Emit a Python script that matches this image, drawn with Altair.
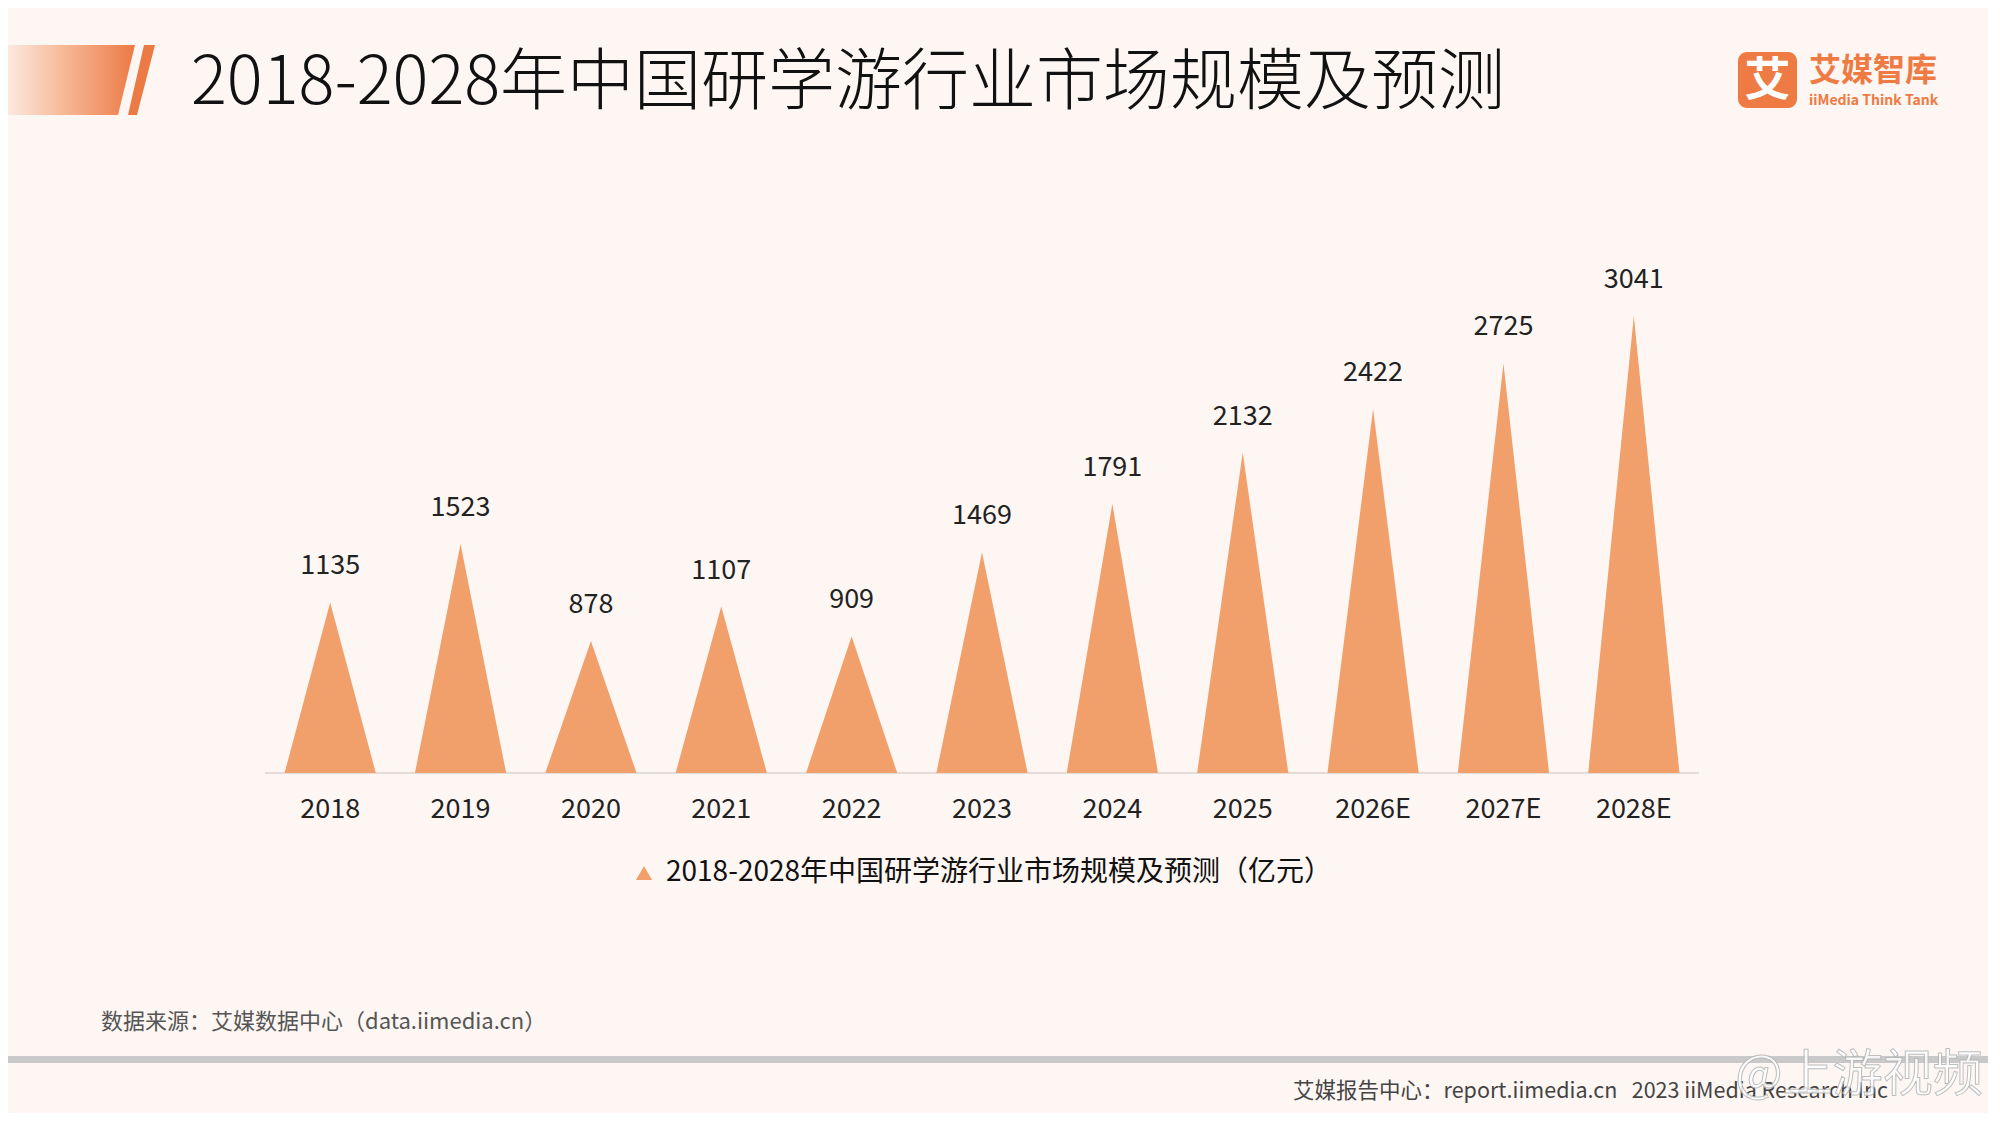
import altair as alt
import pandas as pd

# ---------------- data ----------------
years = ["2018", "2019", "2020", "2021", "2022", "2023", "2024", "2025", "2026E", "2027E", "2028E"]
values = [1135, 1523, 878, 1107, 909, 1469, 1791, 2132, 2422, 2725, 3041]
series_name = "2018-2028年中国研学游行业市场规模及预测（亿元）"
title_text = "2018-2028年中国研学游行业市场规模及预测"
source_text = "数据来源：艾媒数据中心（data.iimedia.cn）"
footer_text = "艾媒报告中心：report.iimedia.cn\u00a0\u00a0\u00a02023 iiMedia Research Inc"
logo_cn = "艾媒智库"
logo_en = "iiMedia Think Tank"
watermark = "@上游视频"

# ---------------- style ----------------
FONT = "Noto Sans CJK SC"
ORANGE = "#f1a06b"
LOGO = "#ee7a44"
BG = "#fdf6f3"
W, H = 1980, 1105
HALF = 0.35  # half base width of each triangle, in category units

rows = []
for i, (yr, v) in enumerate(zip(years, values)):
    rows.append(dict(year=yr, pos=i - HALF, val=0, series=series_name))
    rows.append(dict(year=yr, pos=i, val=v, series=series_name))
    rows.append(dict(year=yr, pos=i + HALF, val=0, series=series_name))
tri = pd.DataFrame(rows)
pts = pd.DataFrame(dict(year=years, pos=list(range(len(years))), val=values))
dummy = pd.DataFrame({"k": [0]})

xs = alt.Scale(domain=[-0.5, len(years) - 0.5], range=[257, 1691], nice=False, zero=False)
ys = alt.Scale(domain=[0, 3200], range=[765, 284], nice=False, zero=True)

triangles = alt.Chart(tri).mark_area(orient="vertical", interpolate="linear", opacity=1).encode(
    x=alt.X("pos:Q", scale=xs, axis=None),
    y=alt.Y("val:Q", scale=ys, axis=None, stack=None),
    color=alt.Color(
        "series:N",
        scale=alt.Scale(range=[ORANGE]),
        legend=alt.Legend(
            title=None, orient="none", legendX=622, legendY=851,
            symbolType="triangle-up", symbolSize=260, symbolStrokeWidth=0,
            labelFontSize=28, labelFont=FONT, labelColor="#111111",
            labelOffset=8, labelLimit=2000, padding=0,
        ),
    ),
)

value_labels = alt.Chart(pts).mark_text(
    baseline="middle", align="center", dy=-36, fontSize=27, font=FONT, color="#222222"
).encode(
    x=alt.X("pos:Q", scale=xs, axis=None),
    y=alt.Y("val:Q", scale=ys, axis=None),
    text=alt.Text("val:Q", format="d"),
)

tick_labels = alt.Chart(pts).mark_text(
    baseline="middle", align="center", fontSize=27, font=FONT, color="#222222"
).encode(
    x=alt.X("pos:Q", scale=xs, axis=None),
    y=alt.value(802),
    text="year:N",
)

baseline = alt.Chart(dummy).mark_rule(color="#ddd3ce", strokeWidth=1.5).encode(
    x=alt.value(257), x2=alt.value(1691), y=alt.value(765)
)


def txt(text, x, y, size, color, align="left", weight="normal", **kw):
    return alt.Chart(dummy).mark_text(
        text=text, align=align, baseline="middle", fontSize=size, color=color,
        font=FONT, fontWeight=weight, **kw
    ).encode(x=alt.value(x), y=alt.value(y))


grad = alt.LinearGradient(
    gradient="linear",
    stops=[alt.GradientStop(color="#fdf0e8", offset=0),
           alt.GradientStop(color="#f6b592", offset=0.5),
           alt.GradientStop(color="#ec7a45", offset=1)],
    x1=0, x2=1, y1=0, y2=0,
)
block = alt.Chart(dummy).mark_point(
    shape="M -8 37 L 127 37 L 110 107 L -8 107 Z", size=4, filled=True,
    fill=grad, strokeWidth=0, opacity=1,
).encode(x=alt.value(0), y=alt.value(0))
stripe = alt.Chart(dummy).mark_point(
    shape="M 136 37 L 147 37 L 129 107 L 120 107 Z", size=4, filled=True,
    fill="#ec7a45", strokeWidth=0, opacity=1,
).encode(x=alt.value(0), y=alt.value(0))

title = txt(title_text, 183, 76, 67, "#111111", weight=300)

logo_box = alt.Chart(dummy).mark_rect(color=LOGO, cornerRadius=9).encode(
    x=alt.value(1730), x2=alt.value(1789), y=alt.value(44), y2=alt.value(100)
)
logo_char = txt("艾", 1759.5, 73, 46, "#ffffff", align="center", weight="bold")
logo_t1 = txt(logo_cn, 1801, 63, 32, LOGO, weight="bold")
logo_t2 = txt(logo_en, 1801, 93, 14, LOGO, weight="bold")

source = txt(source_text, 93, 1014, 22, "#555555")
gray_bar = alt.Chart(dummy).mark_rect(color="#c9c9c9").encode(
    x=alt.value(0), x2=alt.value(W), y=alt.value(1048), y2=alt.value(1055)
)
footer = txt(footer_text, 1880, 1084, 21.5, "#444444", align="right")
wm = alt.Chart(dummy).mark_text(
    text=watermark, align="center", baseline="middle", fontSize=50, font=FONT,
    fill="#ffffff", stroke="#b5b5b5", strokeWidth=1, opacity=0.85,
).encode(x=alt.value(1851), y=alt.value(1068))

chart = alt.layer(
    block, stripe, title, logo_box, logo_char, logo_t1, logo_t2,
    baseline, triangles, value_labels, tick_labels,
    source, gray_bar, footer, wm,
).properties(
    width=W, height=H, padding=0,
    autosize=alt.AutoSizeParams(type="none"),
    background=BG,
).configure_view(stroke=None)

chart.save("out.html", embed_options={"renderer": "svg", "actions": False})
